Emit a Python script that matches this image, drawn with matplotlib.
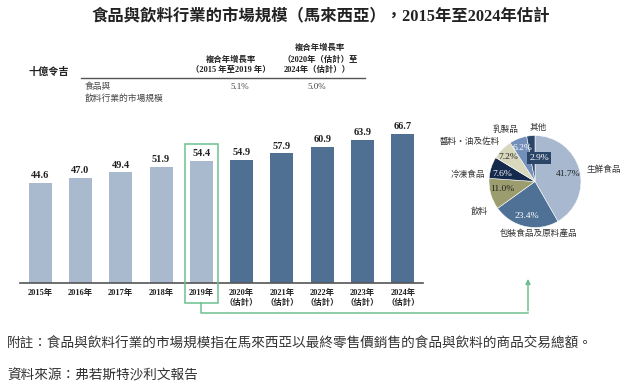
import matplotlib
matplotlib.use('Agg')
import matplotlib.pyplot as plt
from matplotlib.patches import Rectangle, FancyArrowPatch
from matplotlib.lines import Line2D
import numpy as np

# ---------------- data ----------------
years = ['2015年', '2016年', '2017年', '2018年', '2019年',
         '2020年', '2021年', '2022年', '2023年', '2024年']
is_forecast = [False, False, False, False, False, True, True, True, True, True]
values = [44.6, 47.0, 49.4, 51.9, 54.4, 54.9, 57.9, 60.9, 63.9, 66.7]
cagr_values = ['5.1%', '5.0%']
pie_labels = ['生鮮食品', '包裝食品及原料產品', '飲料', '冷凍食品',
              '醬料・油及佐料', '乳製品', '其他']
pie_values = [41.7, 23.4, 11.0, 7.6, 7.2, 6.2, 2.9]

# ---------------- style ----------------
CJK = 'Noto Sans CJK TC'
SERIF = ['Liberation Serif', CJK]
plt.rcParams['font.family'] = [CJK, 'DejaVu Sans']

W, H = 633, 389
fig = plt.figure(figsize=(W / 100, H / 100), dpi=100)


def fx(x):
    return x / W


def fy(y):
    return 1 - y / H


LIGHT = '#AABACE'
DARK = '#4F7092'
GREEN = '#6CC08E'
TXT = '#222222'

# ---------------- bar chart ----------------
ax_l, ax_r, ax_t, ax_b = 20, 423, 120, 283
ax = fig.add_axes([fx(ax_l), fy(ax_b), (ax_r - ax_l) / W, (ax_b - ax_t) / H])
px_per_unit = 2.24
ax.set_xlim(-0.5, 9.5)
ax.set_ylim(0, (ax_b - ax_t) / px_per_unit)
x = np.arange(len(values))
bar_colors = [DARK if f else LIGHT for f in is_forecast]
ax.bar(x, values, width=0.57, color=bar_colors)
for xi, v in zip(x, values):
    ax.text(xi, v + 1.2, f'{v:.1f}', ha='center', va='bottom', fontsize=7.5,
            fontweight='bold', family=SERIF, color=TXT)
ticklabels = [y + ('\n（估計）' if f else '') for y, f in zip(years, is_forecast)]
ax.set_xticks(x)
ax.set_xticklabels(ticklabels, fontsize=6, fontweight='bold', family=SERIF,
                   linespacing=1.35, color=TXT)
ax.tick_params(axis='x', length=0, pad=4)
ax.set_yticks([])
for s in ['top', 'right', 'left']:
    ax.spines[s].set_visible(False)
ax.spines['bottom'].set_color('#555555')
ax.spines['bottom'].set_linewidth(1.2)

# green highlight box around 2019 and connector arrow
bx0, bx1, by0, by1 = 185, 218, 144, 303
fig.add_artist(Rectangle((fx(bx0), fy(by1)), (bx1 - bx0) / W, (by1 - by0) / H,
                         transform=fig.transFigure, fill=False,
                         edgecolor=GREEN, linewidth=1.1))
cx = (bx0 + bx1) / 2
fig.add_artist(Line2D([fx(cx), fx(cx), fx(528)], [fy(by1), fy(313), fy(313)],
                      transform=fig.transFigure, color=GREEN, linewidth=1.1))
fig.add_artist(FancyArrowPatch((fx(528), fy(313.5)), (fx(528), fy(276)),
                               transform=fig.transFigure, arrowstyle='-|>',
                               mutation_scale=7, color=GREEN, linewidth=1.1))

# ---------------- header / table ----------------
fig.text(fx(321), fy(17), '食品與飲料行業的市場規模（馬來西亞），2015年至2024年估計',
         ha='center', va='center', fontsize=11.8, fontweight='bold', family=SERIF, color=TXT)
fig.text(fx(49), fy(72), '十億令吉', ha='center', va='center', fontsize=7.3,
         fontweight='bold', color=TXT)
hdr = dict(ha='center', va='center', fontsize=6, fontweight='bold', family=SERIF, color=TXT)
fig.text(fx(231), fy(60), '複合年增長率', **hdr)
fig.text(fx(231), fy(70), '（2015 年至2019 年）', **hdr)
fig.text(fx(320), fy(48), '複合年增長率', **hdr)
fig.text(fx(320), fy(60), '（2020年（估計）至', **hdr)
fig.text(fx(317), fy(70), '2024年（估計））', **hdr)
fig.add_artist(Line2D([fx(81), fx(365)], [fy(78), fy(78)], transform=fig.transFigure,
                      color='#555555', linewidth=1.0))
fig.text(fx(85), fy(87), '食品與', ha='left', va='center', fontsize=6.3, color='#444444')
fig.text(fx(85), fy(98), '飲料行業的市場規模', ha='left', va='center', fontsize=6.3,
         color='#444444')
for cxp, c in zip([240, 317], cagr_values):
    fig.text(fx(cxp), fy(87), c, ha='center', va='center', fontsize=6.5,
             family=SERIF, color='#444444')

# ---------------- pie ----------------
pcx, pcy, pr = 535, 181.5, 46
pax = fig.add_axes([fx(pcx - pr), fy(pcy + pr), 2 * pr / W, 2 * pr / H])
pie_colors = ['#A8B9CF', '#4F7196', '#9C9D6E', '#15294C', '#D8D8BD', '#7390BA', '#2B4568']
wedges, _ = pax.pie(pie_values, colors=pie_colors, startangle=90, counterclock=False,
                    radius=1, wedgeprops=dict(edgecolor='white', linewidth=0.4))
pax.set_xlim(-1, 1)
pax.set_ylim(-1, 1)
pax.set_aspect('equal')

pct_pos = [(0.72, 0.16), (-0.17, -0.75), (-0.72, -0.16), (-0.72, 0.16),
           (-0.59, 0.53), (-0.28, 0.73), (0.09, 0.51)]
pct_col = [TXT, 'white', TXT, 'white', TXT, 'white', 'white']
for (px, py), v, c in zip(pct_pos, pie_values, pct_col):
    kw = {}
    if v == 2.9:
        kw['bbox'] = dict(boxstyle='square,pad=0.25', facecolor='#2B4568', edgecolor='none')
    pax.text(px, py, f'{v:.1f}%', ha='center', va='center', fontsize=6.8,
             family=SERIF, color=c, **kw)

lab_pos = [(1.11, 0.27, 'left'), (0.07, -1.12, 'center'), (-1.02, -0.66, 'right'),
           (-1.09, 0.16, 'right'), (-0.76, 0.88, 'right'), (-0.64, 1.14, 'center'),
           (0.08, 1.18, 'center')]
for (px, py, ha), lab in zip(lab_pos, pie_labels):
    pax.text(px, py, lab, ha=ha, va='center', fontsize=6.2, color='#333333', clip_on=False)

# ---------------- footnotes ----------------
fig.text(fx(7), fy(343), '附註：食品與飲料行業的市場規模指在馬來西亞以最終零售價銷售的食品與飲料的商品交易總額。',
         ha='left', va='center', fontsize=9.8, color='#333333')
fig.text(fx(7), fy(375), '資料來源：弗若斯特沙利文報告', ha='left', va='center',
         fontsize=9.8, style='italic', color='#333333')

fig.savefig('out.png', dpi=100)
